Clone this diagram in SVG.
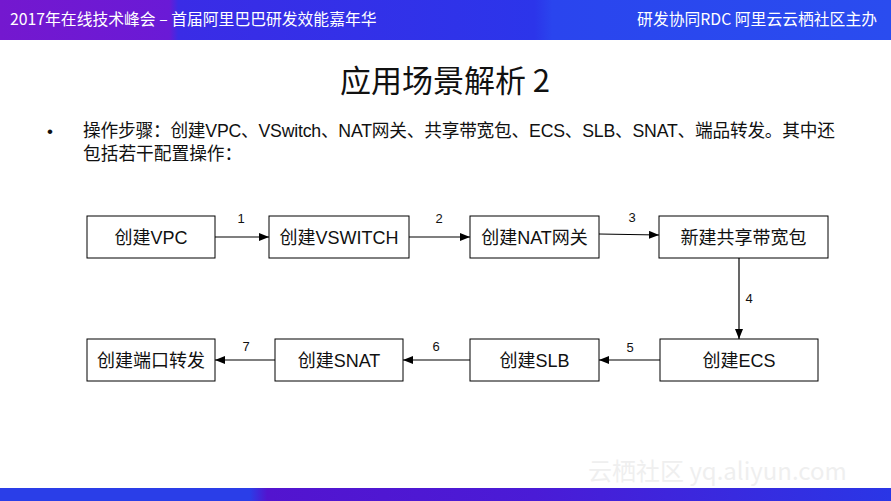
<svg xmlns="http://www.w3.org/2000/svg" width="891" height="501" viewBox="0 0 891 501">
<defs>
<linearGradient id="hdr" x1="0" y1="0" x2="1" y2="0">
<stop offset="0" stop-color="#7418cf"/>
<stop offset="0.19" stop-color="#6a1ad6"/>
<stop offset="0.2" stop-color="#3a2ce6"/>
<stop offset="0.6" stop-color="#2c35ea"/>
<stop offset="0.62" stop-color="#2a45ee"/>
<stop offset="1" stop-color="#2a4cef"/>
</linearGradient>
<linearGradient id="ftr" x1="0" y1="0" x2="1" y2="0">
<stop offset="0" stop-color="#2a3ee8"/>
<stop offset="0.28" stop-color="#2a3ee8"/>
<stop offset="0.3" stop-color="#5314cf"/>
<stop offset="0.6" stop-color="#4a1bd6"/>
<stop offset="1" stop-color="#2a36e6"/>
</linearGradient>
<marker id="ah" markerWidth="10" markerHeight="8" refX="10" refY="4" orient="auto" markerUnits="userSpaceOnUse">
<path d="M0,0 L10,4 L0,8 Z" fill="#000"/>
</marker>
<style>
.box{fill:#fff;stroke:#000;stroke-width:1}
.bt{font-family:"Liberation Sans","Noto Sans CJK SC",sans-serif;font-size:18px;fill:#111;text-anchor:middle}
.lbl{font-family:"Liberation Sans",sans-serif;font-size:13px;fill:#111;text-anchor:middle}
.conn{stroke:#000;stroke-width:1.2;fill:none;marker-end:url(#ah)}
.hd{font-family:"Noto Sans CJK SC",sans-serif;font-size:15.8px;fill:#fff}
.body{font-family:"Liberation Sans","Noto Sans CJK SC",sans-serif;font-size:17.7px;fill:#111}
</style>
</defs>
<rect x="0" y="0" width="891" height="40" fill="url(#hdr)"/>
<text class="hd" x="10" y="25">2017年在线技术峰会 – 首届阿里巴巴研发效能嘉年华</text>
<text class="hd" x="877" y="25" text-anchor="end">研发协同RDC 阿里云云栖社区主办</text>
<rect x="0" y="488" width="891" height="13" fill="url(#ftr)"/>
<text x="445" y="92" text-anchor="middle" font-family="'Noto Sans CJK SC',sans-serif" font-size="31" fill="#111">应用场景解析 2</text>
<text x="47" y="137" font-family="'Liberation Sans',sans-serif" font-size="17" fill="#111">•</text>
<text class="body" x="83" y="137" textLength="752" lengthAdjust="spacing">操作步骤：创建VPC、VSwitch、NAT网关、共享带宽包、ECS、SLB、SNAT、端品转发。其中还</text>
<text class="body" x="83" y="160">包括若干配置操作：</text>
<text x="588" y="480" font-family="'Noto Sans CJK SC',sans-serif" font-size="24" fill="#efefef">云栖社区 yq.aliyun.com</text>
<g id="connectors">
<line class="conn" x1="215" y1="237" x2="269" y2="237"/>
<line class="conn" x1="409" y1="237" x2="470" y2="237"/>
<line class="conn" x1="599" y1="234" x2="659" y2="235"/>
<line class="conn" x1="739" y1="258" x2="739" y2="339"/>
<line class="conn" x1="660" y1="360" x2="599" y2="360"/>
<line class="conn" x1="470" y1="360" x2="403" y2="360"/>
<line class="conn" x1="275" y1="360" x2="215" y2="360"/>
<text class="lbl" x="241" y="223">1</text>
<text class="lbl" x="439" y="223">2</text>
<text class="lbl" x="632" y="222">3</text>
<text class="lbl" x="749" y="303">4</text>
<text class="lbl" x="630" y="352">5</text>
<text class="lbl" x="436" y="351">6</text>
<text class="lbl" x="246" y="351">7</text>
</g>
<g id="n1"><rect class="box" x="87" y="216" width="128" height="42"/><text class="bt" x="151" y="243.5">创建VPC</text></g>
<g id="n2"><rect class="box" x="269" y="216" width="140" height="42"/><text class="bt" x="339" y="243.5">创建VSWITCH</text></g>
<g id="n3"><rect class="box" x="470" y="216" width="129" height="42"/><text class="bt" x="534.5" y="243.5">创建NAT网关</text></g>
<g id="n4"><rect class="box" x="659" y="216" width="169" height="42"/><text class="bt" x="743.5" y="243.5">新建共享带宽包</text></g>
<g id="n5"><rect class="box" x="660" y="339" width="158" height="42"/><text class="bt" x="739" y="366.5">创建ECS</text></g>
<g id="n6"><rect class="box" x="470" y="339" width="129" height="42"/><text class="bt" x="534.5" y="366.5">创建SLB</text></g>
<g id="n7"><rect class="box" x="275" y="339" width="128" height="42"/><text class="bt" x="339" y="366.5">创建SNAT</text></g>
<g id="n8"><rect class="box" x="87" y="339" width="128" height="42"/><text class="bt" x="151" y="366.5">创建端口转发</text></g>
</svg>
